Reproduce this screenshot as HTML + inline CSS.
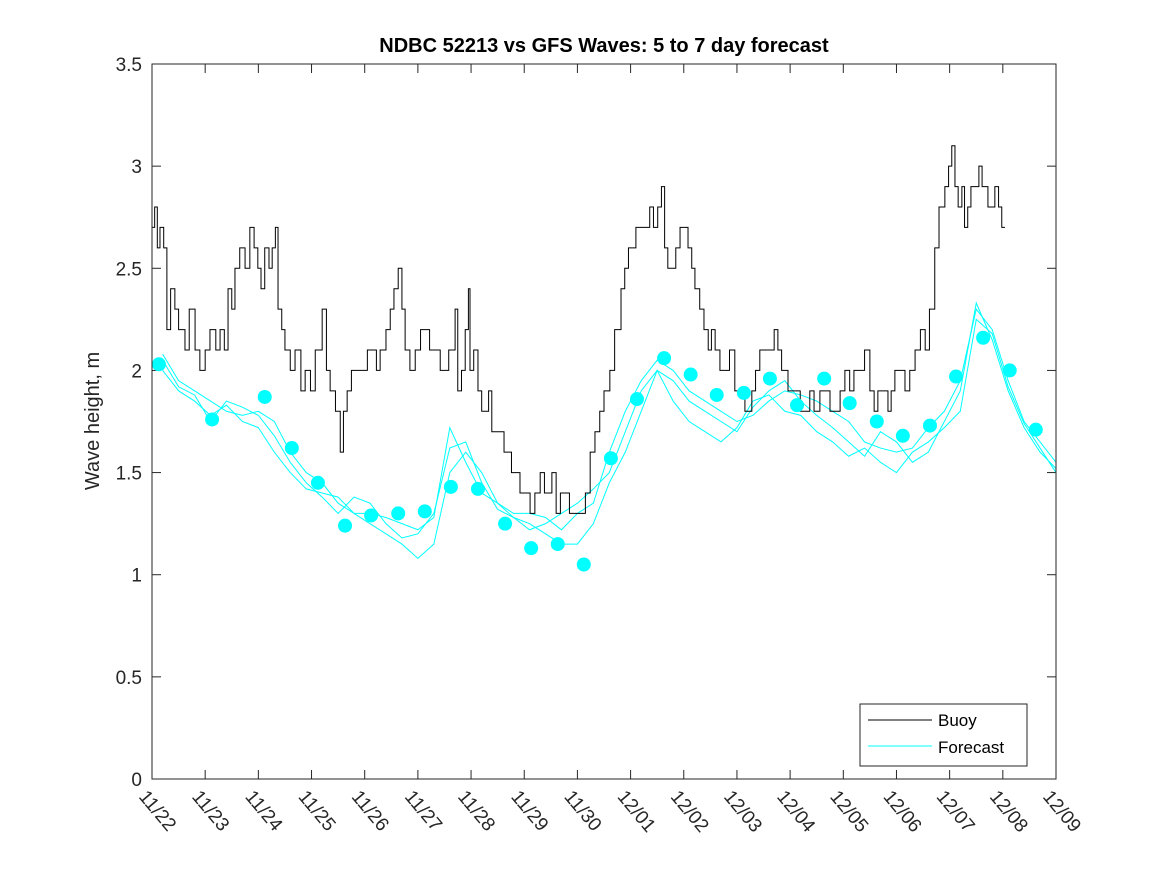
<!DOCTYPE html>
<html><head><meta charset="utf-8"><style>
body{margin:0;background:#fff;}
svg text{font-family:"Liberation Sans",sans-serif;}
</style></head><body>
<svg id="chart" width="1167" height="875" xmlns="http://www.w3.org/2000/svg">
<rect width="1167" height="875" fill="#fff"/>
<text x="604" y="52" text-anchor="middle" font-size="20" font-weight="bold" fill="#000">NDBC 52213 vs GFS Waves: 5 to 7 day forecast</text>
<text transform="translate(99,421) rotate(-90)" text-anchor="middle" font-size="20" fill="#262626">Wave height, m</text>
<g id="grid"></g>
<g id="series"></g>
<rect x="152" y="64" width="904" height="715" fill="none" stroke="#262626" stroke-width="1"/>
<g id="legend">
<rect x="860" y="704" width="167" height="62" fill="#fff" stroke="#262626" stroke-width="1"/>
<line x1="868" y1="720" x2="932" y2="720" stroke="#000" stroke-width="1"/>
<text x="938" y="726" font-size="17" fill="#000">Buoy</text>
<line x1="868" y1="746" x2="932" y2="746" stroke="#00ffff" stroke-width="1"/>
<text x="938" y="753" font-size="17" fill="#000">Forecast</text>
</g>
</svg>
<script>
const xTickLabels=["11/22","11/23","11/24","11/25","11/26","11/27","11/28","11/29","11/30","12/01","12/02","12/03","12/04","12/05","12/06","12/07","12/08","12/09"];
const yTicks=[0,0.5,1,1.5,2,2.5,3,3.5];
const buoyDays=[0,.05,.1,.15,.22,.28,.35,.43,.5,.62,.7,.81,.9,1.0,1.09,1.2,1.28,1.36,1.43,1.5,1.56,1.65,1.75,1.84,1.92,1.99,2.05,2.12,2.2,2.26,2.32,2.37,2.44,2.5,2.6,2.69,2.8,2.88,2.98,3.07,3.2,3.28,3.35,3.45,3.54,3.6,3.67,3.75,3.82,3.95,4.05,4.14,4.22,4.29,4.4,4.48,4.55,4.63,4.7,4.76,4.85,4.95,5.05,5.13,5.22,5.32,5.42,5.51,5.58,5.64,5.7,5.75,5.82,5.89,5.95,5.98,6.05,6.13,6.2,6.26,6.33,6.39,6.47,6.54,6.62,6.69,6.76,6.83,6.92,7.0,7.11,7.2,7.3,7.38,7.45,7.52,7.6,7.68,7.77,7.85,7.92,8.0,8.05,8.15,8.24,8.33,8.42,8.5,8.61,8.7,8.76,8.82,8.89,8.96,9.03,9.1,9.18,9.27,9.36,9.43,9.51,9.58,9.64,9.7,9.78,9.85,9.93,10.0,10.08,10.15,10.21,10.3,10.38,10.46,10.52,10.59,10.68,10.77,10.86,10.96,11.05,11.15,11.2,11.28,11.35,11.43,11.52,11.62,11.7,11.77,11.84,11.9,11.96,12.03,12.1,12.19,12.28,12.37,12.45,12.56,12.65,12.75,12.85,12.94,13.03,13.12,13.2,13.31,13.4,13.5,13.58,13.65,13.75,13.84,13.9,13.97,14.05,14.16,14.25,14.35,14.45,14.54,14.62,14.72,14.8,14.91,14.98,15.04,15.1,15.16,15.2,15.23,15.28,15.34,15.4,15.48,15.55,15.61,15.66,15.72,15.78,15.85,15.92,15.98,16.04,16.1,16.16,16.23,16.28,16.32];
const buoyVals=[2.7,2.8,2.6,2.7,2.6,2.2,2.4,2.3,2.2,2.1,2.3,2.1,2.0,2.1,2.2,2.1,2.2,2.1,2.4,2.3,2.5,2.6,2.5,2.7,2.6,2.5,2.4,2.6,2.5,2.6,2.7,2.3,2.2,2.1,2.0,2.1,1.9,2.0,1.9,2.1,2.3,2.0,1.9,1.8,1.6,1.8,1.9,2.0,2.0,2.0,2.1,2.1,2.0,2.1,2.2,2.3,2.4,2.5,2.3,2.1,2.0,2.1,2.2,2.2,2.1,2.1,2.0,2.0,2.1,2.1,2.3,1.9,2.0,2.2,2.4,2.0,2.1,1.9,1.8,1.8,1.9,1.7,1.7,1.7,1.6,1.6,1.5,1.5,1.4,1.4,1.3,1.4,1.5,1.4,1.4,1.5,1.3,1.4,1.4,1.3,1.3,1.3,1.3,1.4,1.6,1.7,1.8,1.9,2.0,2.2,2.2,2.4,2.5,2.6,2.6,2.7,2.7,2.7,2.8,2.7,2.8,2.9,2.6,2.5,2.5,2.6,2.7,2.7,2.6,2.5,2.4,2.3,2.2,2.1,2.2,2.1,2.0,2.0,2.1,1.9,1.9,1.8,1.8,1.9,2.0,2.1,2.1,2.1,2.2,2.1,2.0,2.0,1.9,1.9,1.9,1.8,1.8,1.9,1.8,1.9,1.9,1.8,1.8,1.9,2.0,1.9,2.0,2.0,2.1,1.9,1.8,1.9,1.9,1.8,1.9,2.0,2.0,1.9,2.0,2.1,2.2,2.1,2.3,2.6,2.8,2.9,3.0,3.1,2.9,2.8,2.8,2.9,2.7,2.8,2.9,2.9,3.0,2.9,2.9,2.8,2.8,2.9,2.8,2.7,2.7];
const dotDays=[0.13,1.13,2.12,2.63,3.12,3.63,4.12,4.63,5.13,5.62,6.13,6.64,7.13,7.63,8.12,8.63,9.12,9.63,10.13,10.62,11.13,11.62,12.13,12.64,13.12,13.63,14.12,14.63,15.12,15.63,16.13,16.62];
const dotVals=[2.03,1.76,1.87,1.62,1.45,1.24,1.29,1.30,1.31,1.43,1.42,1.25,1.13,1.15,1.05,1.57,1.86,2.06,1.98,1.88,1.89,1.96,1.83,1.96,1.84,1.75,1.68,1.73,1.97,2.16,2.00,1.71];
const fcDays=[0.2,0.5,0.8,1.1,1.4,1.7,2.0,2.3,2.6,2.9,3.2,3.5,3.8,4.1,4.4,4.7,5.0,5.3,5.6,5.9,6.2,6.5,6.8,7.1,7.4,7.7,8.0,8.3,8.6,8.9,9.2,9.5,9.8,10.1,10.4,10.7,11.0,11.3,11.6,11.9,12.2,12.5,12.8,13.1,13.4,13.7,14.0,14.3,14.6,14.9,15.2,15.5,15.8,16.1,16.4,16.7,17.0];
const fcA=[2.08,1.95,1.9,1.85,1.8,1.78,1.8,1.75,1.6,1.5,1.45,1.35,1.3,1.3,1.28,1.25,1.22,1.28,1.72,1.55,1.4,1.35,1.3,1.3,1.28,1.22,1.3,1.35,1.6,1.8,1.95,2.05,2.0,1.9,1.85,1.8,1.75,1.78,1.85,1.9,1.88,1.85,1.8,1.75,1.65,1.62,1.6,1.62,1.72,1.8,1.95,2.3,2.2,1.95,1.75,1.65,1.55];
const fcB=[2.05,1.92,1.88,1.75,1.85,1.82,1.78,1.68,1.55,1.45,1.38,1.3,1.38,1.35,1.25,1.18,1.2,1.3,1.62,1.65,1.45,1.32,1.28,1.22,1.25,1.3,1.35,1.42,1.5,1.7,1.9,2.0,1.95,1.85,1.8,1.75,1.7,1.82,1.9,1.95,1.85,1.78,1.72,1.65,1.58,1.7,1.65,1.55,1.6,1.75,1.9,2.33,2.15,1.9,1.72,1.6,1.52];
const fcC=[2.0,1.9,1.85,1.78,1.83,1.75,1.72,1.6,1.5,1.42,1.4,1.38,1.3,1.25,1.2,1.15,1.08,1.15,1.5,1.6,1.5,1.35,1.28,1.25,1.2,1.15,1.15,1.25,1.45,1.6,1.8,2.0,1.85,1.75,1.7,1.65,1.72,1.85,1.88,1.8,1.78,1.7,1.65,1.58,1.62,1.55,1.5,1.6,1.65,1.72,1.8,2.25,2.18,1.92,1.74,1.62,1.5];
const fcSeries=[fcA,fcB,fcC];

const X0=152,X1=1056,Y0=779,Y1=64;
function xs(d){return X0+d*(X1-X0)/17;}
function ys(v){return Y0-v*(Y0-Y1)/3.5;}
const NS="http://www.w3.org/2000/svg";
const grid=document.getElementById('grid'),ser=document.getElementById('series');
function mk(tag,attrs,parent){const e=document.createElementNS(NS,tag);for(const k in attrs)e.setAttribute(k,attrs[k]);parent.appendChild(e);return e;}
yTicks.forEach(v=>{
  const y=ys(v);
  const t1=mk('line',{x1:X0,x2:X0+9,y1:y,y2:y,stroke:'#262626'},grid);
  
  
  const t2=mk('line',{x1:X1-9,x2:X1,y1:y,y2:y,stroke:'#262626'},grid);
  
  
  const tx=mk('text',{x:X0-10,y:y+7,'text-anchor':'end','font-size':'19',fill:'#262626'},grid);
  tx.textContent=String(v);
  
  
});
xTickLabels.forEach((l,i)=>{
  const x=xs(i);
  const t1=mk('line',{x1:x,x2:x,y1:Y0,y2:Y0-9,stroke:'#262626'},grid);
  
  
  const t2=mk('line',{x1:x,x2:x,y1:Y1,y2:Y1+9,stroke:'#262626'},grid);
  
  
  const tx=mk('text',{x:x-14,y:Y0+18,'font-size':'19',fill:'#262626',transform:`rotate(50 ${x-14} ${Y0+18})`},grid);
  tx.textContent=l;
  
  
});
fcSeries.forEach(s=>{
  const p=mk('polyline',{points:s.map((v,i)=>xs(fcDays[i])+','+ys(v)).join(' '),fill:'none',stroke:'#00ffff','stroke-width':'1'},ser);
  
  
});
let pts=[];
buoyVals.forEach((v,i)=>{const x=xs(buoyDays[i]);if(i>0)pts.push(x+','+ys(buoyVals[i-1]));pts.push(x+','+ys(v));});
const b=mk('polyline',{points:pts.join(' '),fill:'none',stroke:'#000','stroke-width':'1'},ser);


dotVals.forEach((v,i)=>{
  const c=mk('circle',{cx:xs(dotDays[i]),cy:ys(v),r:7,fill:'#00ffff'},ser);
  
  
});
</script>
</body></html>
